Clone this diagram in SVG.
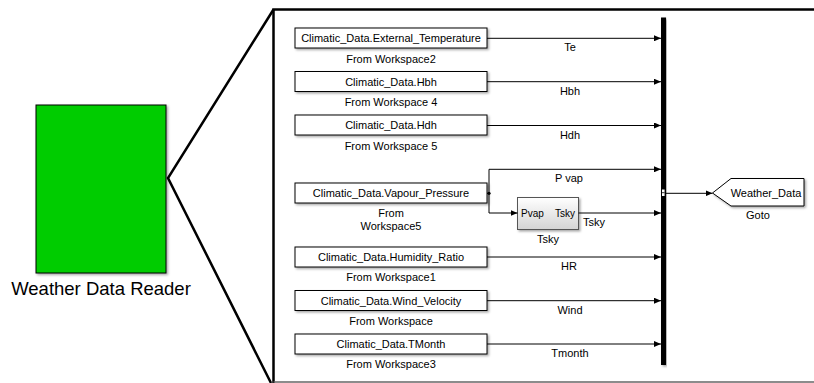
<svg xmlns="http://www.w3.org/2000/svg" width="814" height="383" viewBox="0 0 814 383">
  <defs>
    <filter id="shadow" x="-10%" y="-10%" width="130%" height="140%">
      <feDropShadow dx="1.5" dy="1.5" stdDeviation="1" flood-color="#000" flood-opacity="0.35"/>
    </filter>
    <linearGradient id="subsys" x1="0" y1="0" x2="0" y2="1">
      <stop offset="0" stop-color="#ffffff"/>
      <stop offset="1" stop-color="#d4d4d4"/>
    </linearGradient>
    <marker id="arrow" viewBox="0 0 7 6" refX="7" refY="3" markerWidth="7" markerHeight="6" markerUnits="userSpaceOnUse" orient="auto">
      <path d="M0,0 L7,3 L0,6 Z" fill="#000"/>
    </marker>
  </defs>
  <style>
    text { font-family: "Liberation Sans", Arial, sans-serif; fill: #000; }
    .lbl { font-size: 11px; text-anchor: middle; }
    .port { font-size: 10px; }
    .blk { fill: #fff; stroke: #000; stroke-width: 1; filter: url(#shadow); }
    .sig { fill: none; stroke: #000; stroke-width: 1; }
    .arr { marker-end: url(#arrow); }
  </style>

  <rect width="814" height="383" fill="#fff"/>

  <!-- subsystem block and zoom-out outline -->
  <g id="weather-data-reader">
    <rect x="36" y="105" width="130" height="168" fill="#00cc00" stroke="#000" stroke-width="1" filter="url(#shadow)"/>
    <text x="101" y="295" font-size="18.5" text-anchor="middle">Weather Data Reader</text>
  </g>
  <g id="zoom-outline" fill="none" stroke="#000">
    <polyline points="273.5,9.5 168,178 271,383" stroke-width="2.5"/>
    <path d="M273.5,383 V9.5 H814" stroke-width="2.5"/>
    <line x1="273.5" y1="382" x2="814" y2="382" stroke="#666" stroke-width="1.5"/>
  </g>

  <!-- From Workspace sources -->
  <g id="from-workspace2">
    <rect class="blk" x="295" y="28" width="192" height="20"/>
    <text class="lbl" x="391" y="42">Climatic_Data.External_Temperature</text>
    <text class="lbl" x="391" y="63">From Workspace2</text>
  </g>
  <g id="from-workspace-4">
    <rect class="blk" x="295" y="71.5" width="192" height="20"/>
    <text class="lbl" x="391" y="85.5">Climatic_Data.Hbh</text>
    <text class="lbl" x="391" y="105.5">From Workspace 4</text>
  </g>
  <g id="from-workspace-5">
    <rect class="blk" x="295" y="115" width="192" height="20"/>
    <text class="lbl" x="391" y="129">Climatic_Data.Hdh</text>
    <text class="lbl" x="391" y="149.5">From Workspace 5</text>
  </g>
  <g id="from-workspace5">
    <rect class="blk" x="295" y="183" width="192" height="20"/>
    <text class="lbl" x="391" y="197">Climatic_Data.Vapour_Pressure</text>
    <text class="lbl" x="391" y="217">From</text>
    <text class="lbl" x="391" y="229.5">Workspace5</text>
  </g>
  <g id="from-workspace1">
    <rect class="blk" x="295" y="247" width="192" height="20"/>
    <text class="lbl" x="391" y="261">Climatic_Data.Humidity_Ratio</text>
    <text class="lbl" x="391" y="281">From Workspace1</text>
  </g>
  <g id="from-workspace">
    <rect class="blk" x="295" y="290.5" width="192" height="20"/>
    <text class="lbl" x="391" y="304.5">Climatic_Data.Wind_Velocity</text>
    <text class="lbl" x="391" y="324.5">From Workspace</text>
  </g>
  <g id="from-workspace3">
    <rect class="blk" x="295" y="334" width="192" height="20"/>
    <text class="lbl" x="391" y="348">Climatic_Data.TMonth</text>
    <text class="lbl" x="391" y="367.5">From Workspace3</text>
  </g>

  <!-- sky temperature subsystem -->
  <g id="tsky">
    <rect x="517.5" y="197.5" width="61" height="32" fill="url(#subsys)" stroke="#555" stroke-width="1" filter="url(#shadow)"/>
    <text class="port" x="521" y="217">Pvap</text>
    <text class="port" x="575" y="217" text-anchor="end">Tsky</text>
    <text class="lbl" x="548" y="243">Tsky</text>
  </g>

  <!-- bus creator -->
  <g id="bus-creator">
    <rect x="661" y="17.5" width="5" height="347.5" fill="#000" filter="url(#shadow)"/>
    <rect x="662" y="189.5" width="2.6" height="6.5" fill="#fff"/>
    <line x1="662" y1="192.7" x2="664.6" y2="192.7" stroke="#000" stroke-width="0.8"/>
  </g>

  <!-- goto tag -->
  <g id="goto">
    <polygon points="712.5,193 731,178.5 804,178.5 804,206 731,206" fill="#fff" stroke="#000" stroke-width="1" filter="url(#shadow)"/>
    <text class="lbl" x="766" y="197">Weather_Data</text>
    <text class="lbl" x="758" y="219">Goto</text>
  </g>

  <!-- signal lines -->
  <g id="connectors">
    <line class="sig arr" x1="487" y1="38.3" x2="661" y2="38.3"/>
    <line class="sig arr" x1="487" y1="81.7" x2="661" y2="81.7"/>
    <line class="sig arr" x1="487" y1="125.5" x2="661" y2="125.5"/>
    <line class="sig" x1="487" y1="193.3" x2="489" y2="193.3"/>
    <polyline class="sig arr" points="489,193.3 489,169.3 661,169.3"/>
    <polyline class="sig arr" points="489,193.3 489,213 517.5,213"/>
    <circle cx="489" cy="193.3" r="1.6" fill="#000"/>
    <line class="sig arr" x1="578.5" y1="213" x2="661" y2="213"/>
    <line class="sig arr" x1="487" y1="257" x2="661" y2="257"/>
    <line class="sig arr" x1="487" y1="300.7" x2="661" y2="300.7"/>
    <line class="sig arr" x1="487" y1="344" x2="661" y2="344"/>
    <line class="sig arr" x1="666" y1="193.3" x2="712.5" y2="193.3"/>

    <text class="lbl" x="570" y="51">Te</text>
    <text class="lbl" x="570" y="94.5">Hbh</text>
    <text class="lbl" x="570" y="138.5">Hdh</text>
    <text class="lbl" x="569" y="182">P vap</text>
    <text class="lbl" x="594" y="226">Tsky</text>
    <text class="lbl" x="569" y="270">HR</text>
    <text class="lbl" x="570" y="313.5">Wind</text>
    <text class="lbl" x="570" y="357">Tmonth</text>
  </g>
</svg>
